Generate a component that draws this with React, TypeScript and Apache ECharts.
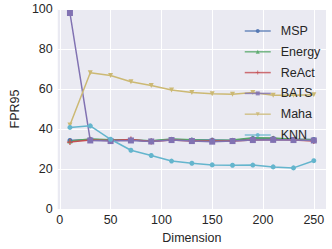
import React, { useEffect, useRef } from "react";
import * as echarts from "echarts";

const dims = [10, 30, 50, 70, 90, 110, 130, 150, 170, 190, 210, 230, 250];
const msp = [34.3, 34.8, 34.5, 34.5, 34.0, 34.8, 34.5, 34.5, 34.3, 35.3, 35.3, 34.8, 34.8];
const energy = [34.0, 35.0, 34.7, 34.5, 34.2, 35.0, 34.6, 34.3, 34.5, 35.6, 35.5, 34.9, 34.7];
const react = [33.5, 34.5, 34.3, 34.8, 33.8, 34.5, 34.0, 34.0, 34.0, 34.5, 34.8, 34.5, 34.0];
const bats = [98.0, 34.3, 34.0, 34.3, 33.8, 34.5, 34.0, 33.7, 34.0, 34.5, 34.6, 34.5, 34.3];
const maha = [42.0, 68.1, 66.8, 63.6, 61.8, 59.5, 58.3, 57.7, 57.4, 58.3, 56.9, 56.9, 57.1];
const knn = [40.8, 41.6, 34.9, 29.4, 26.8, 24.0, 22.9, 22.1, 21.9, 22.0, 21.1, 20.6, 24.2];

const seriesNames = ["MSP", "Energy", "ReAct", "BATS", "Maha", "KNN"];
const yTicks = [0, 20, 40, 60, 80, 100];

const FONT = "'Liberation Sans', Arial, sans-serif";
const TEXT = "#262626";
const PLUS = "path://M4,0 L6,0 L6,4 L10,4 L10,6 L6,6 L6,10 L4,10 L4,6 L0,6 L0,4 L4,4 Z";

export default function App() {
  const ref = useRef<HTMLDivElement>(null);
  useEffect(() => {
    if (!ref.current) return;
    const chart = echarts.init(ref.current, undefined, { renderer: "svg" });
    const pair = (arr: number[]) => dims.map((d, i) => [d, arr[i]]);
    const mk = (
      name: string,
      arr: number[],
      color: string,
      symbol: string,
      size: number,
      rotate = 0
    ) => ({
      name,
      type: "line",
      data: pair(arr),
      symbol,
      symbolSize: size,
      symbolRotate: rotate,
      showAllSymbol: true,
      lineStyle: { color, width: 1.5 },
      itemStyle: { color, opacity: 1 },
      emphasis: { disabled: true },
    });
    chart.setOption({
      animation: false,
      backgroundColor: "#ffffff",
      textStyle: { fontFamily: FONT },
      grid: {
        left: 45.3,
        right: 6,
        top: 9,
        bottom: 34.5,
        show: true,
        backgroundColor: "#eaeaf2",
        borderWidth: 0,
      },
      xAxis: {
        type: "value",
        min: -2,
        max: 262,
        splitNumber: 5,
        name: "Dimension",
        nameLocation: "middle",
        nameGap: 16,
        nameTextStyle: { color: TEXT, fontSize: 12.5, fontFamily: FONT },
        axisLine: { show: false },
        axisTick: { show: false },
        axisLabel: {
          color: TEXT,
          fontSize: 12.5,
          fontFamily: FONT,
          margin: 4,
          showMinLabel: false,
          showMaxLabel: false,
          formatter: (v: number) => (v % 50 === 0 ? String(v) : ""),
        },
        splitLine: {
          show: true,
          showMinLine: false,
          showMaxLine: false,
          lineStyle: { color: "#ffffff", width: 1 },
        },
      },
      yAxis: {
        type: "value",
        min: yTicks[0],
        max: yTicks[yTicks.length - 1],
        interval: 20,
        name: "FPR95",
        nameLocation: "middle",
        nameGap: 24,
        nameTextStyle: { color: TEXT, fontSize: 12.5, fontFamily: FONT },
        axisLine: { show: false },
        axisTick: { show: false },
        axisLabel: { color: TEXT, fontSize: 12.5, fontFamily: FONT, margin: 5 },
        splitLine: { show: true, lineStyle: { color: "#ffffff", width: 1 } },
      },
      legend: {
        data: seriesNames,
        orient: "vertical",
        left: 239,
        top: 19.5,
        itemWidth: 26,
        itemHeight: 5,
        itemGap: 7.8,
        lineStyle: { width: 1.5, opacity: 0.8 },
        itemStyle: { opacity: 0.85 },
        textStyle: {
          color: TEXT,
          fontSize: 12.5,
          fontFamily: FONT,
          lineHeight: 10,
          padding: [0, 0, 0, 5],
        },
      },
      series: [
        mk(seriesNames[0], msp, "#4C72B0", "circle", 5),
        mk(seriesNames[1], energy, "#55A868", "triangle", 5),
        mk(seriesNames[2], react, "#C44E52", PLUS, 6),
        mk(seriesNames[3], bats, "#8172B2", "rect", 6),
        mk(seriesNames[4], maha, "#CCB974", "triangle", 5, 180),
        mk(seriesNames[5], knn, "#64B5CD", "circle", 5),
      ],
    });
    return () => chart.dispose();
  }, []);
  return <div ref={ref} style={{ width: 332, height: 249, position: "absolute", left: 0, top: 0 }} />;
}
